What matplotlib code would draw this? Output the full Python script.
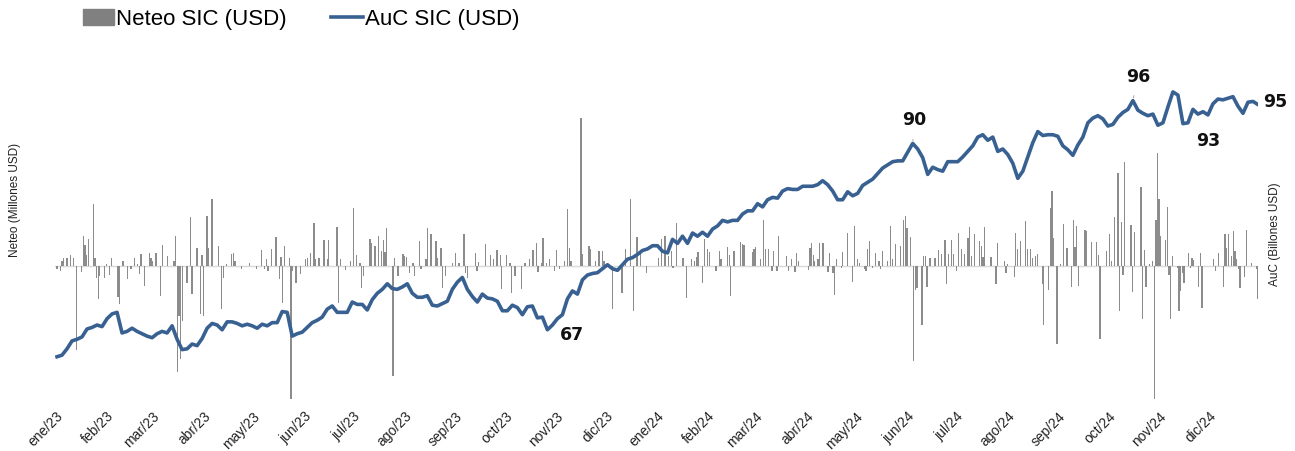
import matplotlib
matplotlib.use("Agg")
import matplotlib.pyplot as plt
from matplotlib.lines import Line2D
from matplotlib.patches import Patch
import pandas as pd

plt.rcParams["font.family"] = ["Liberation Sans", "DejaVu Sans"]

inicio = pd.Timestamp("2023-01-02")
fin = pd.Timestamp("2024-12-31")

meses = ["ene", "feb", "mar", "abr", "may", "jun",
         "jul", "ago", "sep", "oct", "nov", "dic"]

# AuC SIC (billones USD), muestreo regular ene/23 - dic/24
auc_sic = [
    63.5, 63.7, 64.5, 65.5, 65.7, 66.0, 67.0, 67.2, 67.5, 67.3,
    68.3, 68.9, 69.1, 66.5, 66.7, 67.1, 66.7, 66.4, 66.1, 65.9,
    66.4, 66.7, 66.5, 67.4, 65.7, 64.4, 64.5, 65.1, 64.9, 65.8,
    67.1, 67.7, 67.5, 66.9, 67.9, 67.9, 67.7, 67.4, 67.6, 67.4,
    67.1, 67.6, 67.4, 67.8, 67.8, 69.2, 69.1, 66.1, 66.4, 66.6,
    67.2, 67.8, 68.1, 68.5, 69.5, 69.9, 69.1, 69.1, 69.1, 70.4,
    70.1, 70.1, 69.4, 70.7, 71.5, 72.0, 72.7, 72.1, 72.0, 72.3,
    72.7, 71.5, 71.0, 71.0, 71.2, 70.0, 69.9, 70.2, 70.5, 72.0,
    72.9, 73.5, 72.0, 71.1, 70.4, 71.4, 70.9, 70.8, 70.5, 69.3,
    69.3, 70.0, 69.7, 68.8, 69.8, 69.9, 68.4, 68.5, 66.9, 67.5,
    68.3, 68.8, 70.8, 71.8, 71.4, 73.2, 73.8, 74.0, 74.1, 74.6,
    75.1, 74.6, 74.4, 75.1, 75.8, 76.0, 76.4, 76.9, 77.1, 77.5,
    77.5, 76.8, 76.6, 78.3, 77.8, 78.7, 77.8, 79.1, 78.7, 79.2,
    78.7, 79.6, 80.0, 80.7, 80.5, 80.7, 80.7, 81.5, 81.9, 81.9,
    82.8, 82.4, 83.3, 83.6, 83.5, 84.4, 84.7, 84.6, 84.6, 85.0,
    85.0, 85.0, 85.2, 85.7, 85.2, 84.4, 83.3, 83.3, 84.3, 83.8,
    84.1, 85.1, 85.5, 85.9, 86.6, 87.3, 87.7, 88.1, 88.2, 88.2,
    89.3, 90.4, 89.7, 88.6, 86.5, 87.4, 87.1, 86.9, 88.1, 88.1,
    88.1, 88.7, 89.4, 90.1, 91.2, 91.5, 90.8, 91.2, 89.4, 89.7,
    89.0, 87.9, 86.0, 86.9, 88.7, 90.5, 91.9, 91.4, 91.5, 91.5,
    91.3, 90.1, 89.6, 88.9, 90.2, 91.2, 93.0, 93.6, 93.9, 93.5,
    92.6, 92.8, 93.7, 94.3, 94.7, 95.8, 94.6, 94.2, 93.9, 94.1,
    92.7, 93.0, 95.0, 96.9, 96.5, 92.9, 93.0, 94.7, 94.1, 94.4,
    94.0, 95.4, 96.0, 95.9, 96.1, 96.3, 95.1, 94.2, 95.6, 95.7,
    95.3,
]

# Neteo SIC (millones USD): dias desde 2023-01-02 y monto
neteo_dia = [
    0, 2, 3, 4, 6, 8, 10, 12, 15, 16, 17, 18, 19, 22, 23, 24, 25, 26, 29, 30,
    32, 33, 37, 38, 40, 43, 45, 47, 49, 50, 51, 53, 56, 57, 58, 60, 63, 64, 67, 71,
    72, 73, 74, 75, 76, 79, 81, 82, 85, 87, 88, 89, 91, 92, 94, 98, 100, 101, 103, 106,
    107, 108, 112, 117,
    121, 124, 126, 127, 128, 130, 133, 135, 136, 137, 138, 141, 142, 143, 145, 148, 151, 152, 154, 156,
    157, 159, 162, 164, 165, 170, 171, 172, 175, 178, 180, 182, 184, 185, 186, 190, 191, 193, 195, 197,
    198, 199, 200, 204, 205, 207, 210, 211, 212, 214, 216, 217, 220, 221, 224, 225, 227, 230, 231, 233,
    234, 236, 240,
    242, 244, 247, 248, 249, 254, 255, 256, 260, 263, 265, 267, 269, 270, 273, 275, 276, 278, 282, 284,
    287, 289, 291, 292, 294, 295, 297, 299, 302, 303, 305, 308, 310, 311, 312, 318, 319, 323, 324, 327,
    329, 331, 332, 337, 343, 345, 348, 350, 352, 354, 358,
    365, 367, 369, 371, 373, 374, 376, 380, 382, 385, 387, 388, 389, 392, 393, 395, 396, 400, 402, 403,
    407, 408, 409, 411, 415, 416, 417, 422, 423, 424, 427, 429, 430, 432, 434, 435, 437, 438, 443, 444,
    446, 448, 449, 450, 456, 457, 458, 459, 460, 462, 463, 465, 468, 469, 471, 472, 473, 476, 477, 480,
    483, 484,
    486, 487, 490, 491, 492, 493, 495, 497, 499, 500, 501, 504, 506, 507, 509, 512, 514, 515, 516, 518,
    520, 521, 522, 525, 526, 527, 528, 530, 533, 535, 537, 539, 540, 541, 543, 544, 546, 547, 549, 551,
    553, 554, 555, 557, 560, 561, 562, 563, 567, 570, 571, 575, 576, 577, 581, 582, 583, 585, 588, 589,
    591, 592, 594, 595, 598, 599, 602, 603, 604, 605,
    607, 609, 611, 613, 616, 617, 618, 619, 620, 624, 625, 628, 631, 632, 633, 637, 639, 640, 642, 644,
    645, 646, 647, 648, 652, 653, 654, 658, 659, 660, 661, 663, 665, 666, 667, 668, 669, 670, 673, 674,
    675, 676, 677, 680, 681, 682, 683, 684, 687, 688, 689, 690, 693, 694, 695, 702, 703, 705, 708, 709,
    710, 711, 713, 714, 715, 716, 717, 718, 721, 722, 725, 728, 729,
]
neteo_sic = [
    -6, -9, 11, 16, 17, 23, 17, -168, -11, 61, 43, 23, 54, 125, 17, -23, -66, -19, -23, 4,
    -17, 16, -61, -76, 11, -26, -6, 17, 4, -16, 25, -39, 27, 16, 11, 27, -59, 42, 21, 11,
    61, -211, -99, -186, -109, -33, 99, -55, 37, -96, 23, -99, 101, 37, 134, 41, -86, -23, 4, 24,
    27, 11, -6, 7,
    -6, 33, -6, 15, -9, 34, 59, -26, 19, -73, 41, 17, -266, -9, -34, -16, 14, 17, 27, 87,
    15, 17, 52, 15, 52, 79, -73, 14, -7, 11, 117, 22, 7, -43, -19, 55, 46, 41, 61, 31,
    53, 29, 77, -219, 17, -19, 24, 21, 19, -14, 7, -19, 51, -5, 14, 77, 64, 51, 17, 37,
    -43, -19, 7,
    27, 6, 64, -13, -23, 27, -9, 9, 44, 22, 14, 33, 22, -46, 22, 7, -53, -19, -46, 6,
    14, 32, 46, -11, 6, 56, 7, 14, -9, 32, -6, 10, 114, 37, 10, 297, 25, 41, 35, 10,
    30, 30, 10, -85, -53, 34, 134, -89, 59, 27, -14,
    17, 55, 61, 21, 31, -3, 87, 17, -63, 14, 11, 19, 29, -33, 55, 34, 29, -9, 31, 15,
    39, 22, -59, 31, 49, 44, 42, 29, 35, 39, 15, 92, 35, 34, -9, 31, -9, 61, 21, -9,
    14, -11, 27, 11, -7, 37, 46, 22, 11, 14, 46, 47, -11, 27, -13, -58, 14, -3, 29, 67,
    -31, 81,
    14, 7, -6, -9, 34, 51, -3, 27, 11, -6, 31, 11, 81, 14, 44, 41, 92, 101, 77, 59,
    -189, -48, -43, -117, 21, 21, -41, 17, 16, 32, 25, 52, -36, 25, 52, 24, -9, 67, 34, 24,
    57, 79, 21, 65, 51, 41, 19, 79, 19, -36, 47, 11, -13, 5, -21, 67, 34, 51, 91, 34,
    34, 17, 21, 25, -36, -117, -48, 117, 151, 57,
    -156, 4, 85, 37, -41, 92, 39, 81, -39, 73, 71, 49, 49, 23, -146, 31, 64, 11, 99, 187,
    -89, 89, -17, 209, 83, -51, 69, 159, -106, 32, -41, 4, 11, -266, 92, 227, 134, 61, 52, 119,
    -17, -106, 21, -3, -89, -49, -13, -33, 27, -4, 16, 12, -41, 27, -84, 14, -9, 27, -41, 65,
    36, 65, 21, 71, 31, 14, -6, -43, -21, 73, 7, -6, -66,
]

# puntos de la serie AuC que llevan etiqueta
etiqueta_idx = [98, 171, 215, 225, 240]
etiqueta_offset = [(25, -4), (2, 24), (5, 25), (25, -16), (17, 4)]
etiqueta_guia = [False, True, True, False, False]

color_barra = "#8c8c8c"
color_linea = "#386192"

fechas_auc = pd.date_range(inicio, fin, periods=len(auc_sic))
fechas_neteo = inicio + pd.to_timedelta(neteo_dia, unit="D")

W, H = 1295, 452
px_dia = 1201 / 729
x0 = 57 - px_dia
fig = plt.figure(figsize=(W / 100, H / 100), dpi=100)
ax = fig.add_axes([x0 / W, 47 / H, (1258 - x0) / W, 345 / H])

ax.bar(fechas_neteo, neteo_sic, width=0.8, color=color_barra, linewidth=0)
ax.axhline(0, color="#d9d9d9", lw=1, zorder=0)
ax.set_ylim(-276, 414)
ax.set_xlim(pd.Timestamp("2023-01-01"), fin)

ticks = pd.date_range("2023-01-01", "2024-12-01", freq="MS")
ax.set_xticks(ticks)
ax.set_xticklabels([f"{meses[t.month - 1]}/{t.year % 100}" for t in ticks],
                   rotation=45, ha="right", rotation_mode="anchor",
                   fontsize=10, color="#222222")

ax2 = ax.twinx()
ax2.plot(fechas_auc, auc_sic, color=color_linea, lw=2.6, solid_joinstyle="round")
ax2.set_ylim(57.54, 101.05)

# sin marcas ni valores en los ejes verticales
ax.tick_params(axis="x", length=0, pad=3)
ax.tick_params(axis="y", which="both", left=False, right=False,
               labelleft=False, labelright=False)
ax2.tick_params(axis="y", which="both", left=False, right=False,
                labelleft=False, labelright=False)
for s in list(ax.spines.values()) + list(ax2.spines.values()):
    s.set_visible(False)

for i, (dx, dy), guia in zip(etiqueta_idx, etiqueta_offset, etiqueta_guia):
    props = dict(arrowstyle="-", color="#a0a0a0", lw=0.7, shrinkA=6, shrinkB=2) if guia else None
    ax2.annotate(f"{auc_sic[i]:.0f}", xy=(fechas_auc[i], auc_sic[i]),
                 xytext=(dx, dy), textcoords="offset pixels",
                 ha="center", va="center", fontsize=12.5, fontweight="bold",
                 family="DejaVu Sans", color="#111111", arrowprops=props)

fig.text(15 / W, 1 - 200 / H, "Neteo (Millones USD)", rotation=90,
         ha="center", va="center", fontsize=8.5, color="#222222")
fig.text(1275 / W, 1 - 234 / H, "AuC (Billones USD)", rotation=90,
         ha="center", va="center", fontsize=8.5, color="#222222")

handles = [Patch(color="#808080"), Line2D([], [], color=color_linea, lw=2.6)]
fig.legend(handles, ["Neteo SIC (USD)", "AuC SIC (USD)"],
           loc="center left", bbox_to_anchor=(83 / W, 1 - 20 / H), ncol=2,
           frameon=False, fontsize=16, handlelength=1.4, handletextpad=0.1,
           columnspacing=2.0, borderpad=0, borderaxespad=0)

fig.savefig("out.png", dpi=100)
